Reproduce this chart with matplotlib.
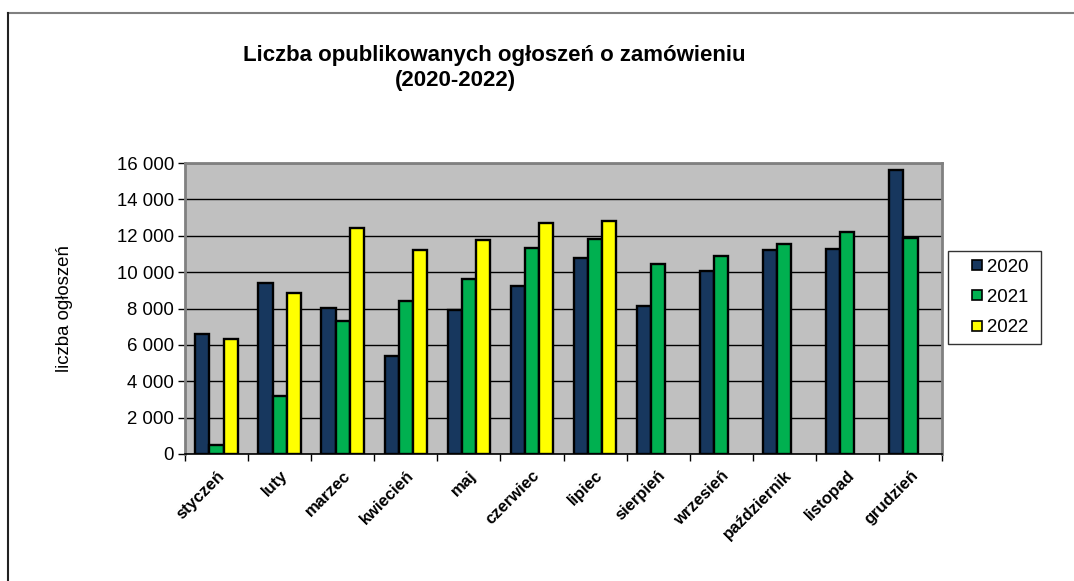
import numpy as np
import matplotlib.pyplot as plt
from matplotlib.lines import Line2D

months = ["styczeń", "luty", "marzec", "kwiecień", "maj", "czerwiec",
          "lipiec", "sierpień", "wrzesień", "październik", "listopad", "grudzień"]

v2020 = [6600, 9420, 8010, 5370, 7940, 9260, 10780, 8140, 10040, 11220, 11250, 15630]
v2021 = [480, 3170, 7330, 8410, 9640, 11310, 11820, 10450, 10870, 11550, 12230, 11860]
v2022 = [6300, 8830, 12410, 11240, 11750, 12700, 12790]

years = ["2020", "2021", "2022"]
colors = ["#17375E", "#00B050", "#FFFF00"]

plt.rcParams['font.family'] = ['Liberation Sans', 'DejaVu Sans']

fig = plt.figure(figsize=(10.74, 5.81), dpi=100)
ax = fig.add_axes([0.1723, 0.2186, 0.7048, 0.5008])

# bars, one series at a time
w = 0.225
x = np.arange(len(months))
for i, (vals, col) in enumerate(zip([v2020, v2021, v2022], colors)):
    xs = x[:len(vals)] + (i - 1) * w
    ax.bar(xs, vals, width=w, color=col, edgecolor="black", linewidth=1.7, zorder=3)

ax.set_xlim(-0.5, 11.5)
ax.set_ylim(0, 16000)
ax.set_facecolor("#C0C0C0")
ax.yaxis.grid(True, color="black", linewidth=1.0, zorder=1)
for s in ax.spines.values():
    s.set_color("#808080")
    s.set_linewidth(2)
ax.spines["bottom"].set_color("black")
ax.spines["bottom"].set_linewidth(1.2)

yt = np.arange(0, 16001, 2000)
ax.set_yticks(yt)
ax.set_yticklabels([f"{v:,}".replace(",", " ") for v in yt], fontsize=13.4)
ax.tick_params(axis="y", length=5, width=1, pad=3)

# category labels at centres, tick marks between categories
ax.set_xticks(x)
ax.set_xticklabels(months, rotation=45, ha="right", rotation_mode="anchor",
                   fontsize=12, fontweight="bold")
ax.tick_params(axis="x", which="major", length=0, pad=10)
ax.set_xticks(np.arange(-0.5, 12, 1), minor=True)
ax.tick_params(axis="x", which="minor", length=5, width=1)

ax.set_ylabel("liczba ogłoszeń", fontsize=13.4)
ax.yaxis.set_label_coords(-0.148, 0.5)

# title, second line sits a bit left like in Excel
fig.text(0.460, 0.905, "Liczba opublikowanych ogłoszeń o zamówieniu",
         ha="center", va="center", fontsize=16, fontweight="bold")
fig.text(0.4245, 0.862, "(2020-2022)", ha="center", va="center",
         fontsize=16, fontweight="bold")

# legend with small square keys
handles = [Line2D([], [], marker="s", ls="", markersize=7.5, markerfacecolor=c,
                  markeredgecolor="black", markeredgewidth=1.2) for c in colors]
leg = ax.legend(handles, [y + " " for y in years], loc="center left",
                bbox_to_anchor=(1.0075, 0.538), fontsize=13.4,
                frameon=True, fancybox=False, edgecolor="black",
                handlelength=2.4, handletextpad=-0.7,
                labelspacing=0.72, borderpad=0.4, borderaxespad=0.0)
leg.get_frame().set_linewidth(1.0)

# outer chart frame (only top and left are in the picture)
fig.add_artist(Line2D([0.0075, 1.0], [0.9776, 0.9776], color="#808080", lw=1.5,
                      transform=fig.transFigure))
fig.add_artist(Line2D([0.0075, 0.0075], [0.0, 0.9776], color="#222222", lw=1.5,
                      transform=fig.transFigure))

fig.savefig("out.png", dpi=100)
